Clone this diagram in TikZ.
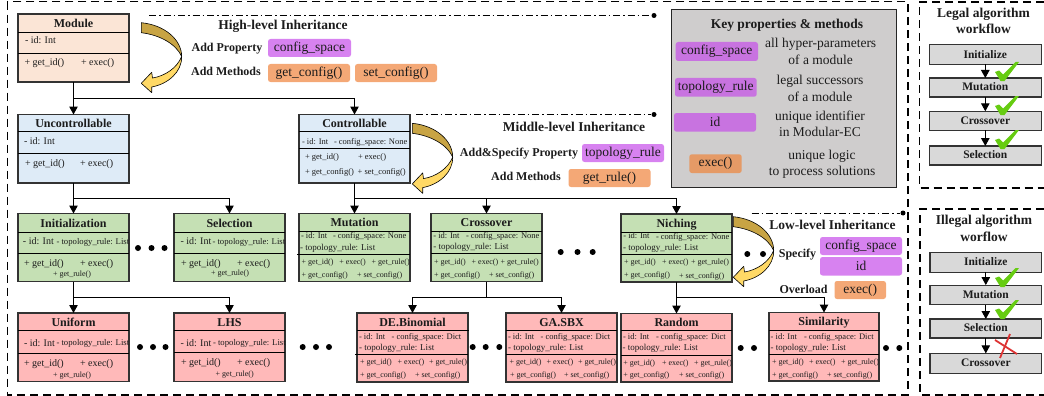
\documentclass[tikz,border=0pt]{standalone}
\usepackage{fontspec}
\setmainfont{Liberation Serif}
\usetikzlibrary{arrows.meta}
\definecolor{cmod}{HTML}{FBE5D6}
\definecolor{cblue}{HTML}{DEEBF7}
\definecolor{cgreen}{HTML}{C5E0B4}
\definecolor{cred}{HTML}{FFB9B9}
\definecolor{cgray}{HTML}{D9D9D9}
\definecolor{cpanel}{HTML}{CFCDCD}
\definecolor{cpur}{HTML}{D782F0}
\definecolor{cora}{HTML}{F4A876}
\definecolor{cpurd}{HTML}{C873E0}
\definecolor{corad}{HTML}{E59A66}
\definecolor{cdark}{HTML}{C8A444}
\definecolor{clight}{HTML}{FFD966}
\definecolor{ccheck}{HTML}{66CC11}
\definecolor{cx}{HTML}{DD3333}
\definecolor{cink}{HTML}{1C1C1C}
\tikzset{
  uml/.style={draw=black!80,line width=1.1pt,inner sep=0pt,outer sep=0pt,rectangle},
  divline/.style={draw=black,line width=0.9pt},
  lab/.style={inner sep=0pt,outer sep=0pt,text=cink},
  conn/.style={draw=black,line width=1pt},
  arr/.style={conn,-{Triangle[length=8pt,width=8.5pt]}},
  frame/.style={draw=black,line width=1.1pt,dash pattern=on 8pt off 5pt},
  dashdot/.style={draw=black,line width=0.9pt,dash pattern=on 7pt off 3pt on 1.5pt off 3pt},
  pillbox/.style={rounded corners=2.5pt,inner sep=0pt,outer sep=0pt,rectangle,text=cink},
  dotnode/.style={circle,fill=black,inner sep=0pt,minimum size=6pt},
}
\newcounter{tn}
\newcommand{\tl}[4]{\stepcounter{tn}\node[lab,anchor=base west] (t\arabic{tn}) at ({#1},{(#2)+0.3*#3}) {\fontsize{#3}{#3}\selectfont #4};}
\newcommand{\tc}[4]{\stepcounter{tn}\node[lab,anchor=base] (t\arabic{tn}) at ({#1},{(#2)+0.3*#3}) {\fontsize{#3}{#3}\selectfont #4};}
\newcommand{\tb}[4]{\stepcounter{tn}\node[lab,anchor=base] (t\arabic{tn}) at ({#1},{(#2)+0.3*#3}) {\fontsize{#3}{#3}\selectfont\bfseries #4};}
\newcommand{\umlbox}[9]{%
  \node[uml,fill=#8,minimum width={#4-#2},minimum height={#5-#3}] (#1) at ({(#2+#4)/2},{(#3+#5)/2}) {};
  \draw[divline] (#2,#6) -- (#4,#6);
  \draw[divline] (#2,#7) -- (#4,#7);
  \tb{(#2+#4)/2}{(#3+#6)/2+1}{12}{#9}}
\newcommand{\pill}[8]{%
  \node[pillbox,fill=#6,minimum width={#4-#2},minimum height={#5-#3}] (#1) at ({(#2+#4)/2},{(#3+#5)/2}) {\fontsize{#7}{#7}\selectfont #8};}
\newcommand{\bendarrow}[2]{%
  \begin{scope}[shift={(#1,#2)},draw=black,line width=0.6pt,line join=round]
    \filldraw[fill=cdark] (141.3,22.7) .. controls (165,25) and (181.7,40) .. (181.7,56.5) .. controls (176,44) and (160,35) .. (141.3,32.7) -- cycle;
    \filldraw[fill=clight] (181.7,56.5) .. controls (182,72) and (168,84) .. (151.7,87) -- (151.7,92.7) -- (141.3,83.3) -- (151.7,72.3) -- (152.5,78) .. controls (165,76) and (177,68) .. (181.7,56.5) -- cycle;
  \end{scope}}
\newcommand{\checkmk}[2]{\fill[ccheck,shift={(#1,#2)}] (995,72) -- (999,70.5) -- (1003,74.5) -- (1015.5,62) -- (1019,62) -- (1004.5,81) -- (1000.5,81) -- cycle;}
\newcommand{\dotat}[3]{\stepcounter{tn}\node[dotnode] (t\arabic{tn}) at (#1,#2) {};}
\begin{document}
\begin{tikzpicture}[x=1pt,y=-1pt]
\useasboundingbox (0,0) rectangle (1044,396);
% frames
\draw[frame] (7.3,1.7) rectangle (908,395);
\draw[frame] (1044,2) -- (919.3,2) -- (919.3,188) -- (1044,188);
\draw[frame] (1044,209) -- (920,209) -- (920,395) -- (1044,395);
% dash-dot leaders
\coordinate (hs) at (149,15.5); \node[dotnode,minimum size=5pt] (he) at (654,15.5) {};
\coordinate (ms) at (416,114.5); \node[dotnode,minimum size=5pt] (me) at (654,114.5) {};
\coordinate (ls) at (751.7,213); \node[dotnode,minimum size=5pt] (le) at (903,213) {};
\draw[dashdot] (hs) -- (he); \draw[dashdot] (ms) -- (me); \draw[dashdot] (ls) -- (le);
% boxes
\umlbox{module}{18}{14}{129}{82}{32.5}{53}{cmod}{Module}
\umlbox{unc}{18}{114.5}{129}{183}{131}{153.5}{cblue}{Uncontrollable}
\umlbox{ctrl}{299}{114.5}{410}{183}{131.5}{148.5}{cblue}{Controllable}
\umlbox{init}{18}{213.5}{129}{281.5}{232}{253}{cgreen}{Initialization}
\umlbox{sel}{174}{213.5}{285}{281.5}{232}{253}{cgreen}{Selection}
\umlbox{mut}{299}{213.5}{410}{281.5}{231}{254}{cgreen}{Mutation}
\umlbox{cro}{431}{213.5}{542}{281.5}{231}{253.5}{cgreen}{Crossover}
\umlbox{nic}{621}{214}{732}{282}{232}{254}{cgreen}{Niching}
\umlbox{uni}{18}{313}{129}{381.7}{330}{353.5}{cred}{Uniform}
\umlbox{lhs}{174}{313}{285}{381.7}{330.5}{352}{cred}{LHS}
\umlbox{de}{357}{313}{468}{382}{330}{354.5}{cred}{DE.Binomial}
\umlbox{ga}{506}{313}{617}{382}{330}{354.5}{cred}{GA.SBX}
\umlbox{ran}{621}{313.5}{732}{382}{330}{355}{cred}{Random}
\umlbox{sim}{769}{312.5}{879}{381}{330}{354.5}{cred}{Similarity}
\draw[divline] (297,254) -- (299,254);
\draw[divline] (355,354.5) -- (357,354.5);
\draw[divline] (468,330) -- (469,330);
% connectors
\draw[arr] (module.south) -- (unc.north);
\coordinate (j1) at (73.5,98); \draw[arr] (j1) -| (ctrl.north);
\draw[arr] (unc.south) -- (init.north);
\coordinate (j2) at (73.5,198); \draw[arr] (j2) -| (sel.north);
\draw[arr] (ctrl.south) -- (mut.north);
\coordinate (j3) at (354.5,198); \draw[arr] (j3) -| (cro.north);
\draw[arr] (j3) -| (nic.north);
\draw[arr] (init.south) -- (uni.north);
\coordinate (j4) at (73.5,297.5); \draw[arr] (j4) -| (lhs.north);
\coordinate (j5) at (486.5,297.5); \draw[conn] (cro.south) -- (j5);
\draw[arr] (j5) -| (de.north); \draw[arr] (j5) -| (ga.north);
\draw[arr] (nic.south) -- (ran.north);
\coordinate (j6) at (676.5,297.5); \draw[arr] (j6) -| (sim.north);
% bend arrows
\bendarrow{0}{0}
\bendarrow{271}{100.6}
\bendarrow{592}{194}
% module text
\tl{25}{41}{10}{- id: Int}
\tl{24.5}{63}{10}{+ get\_id()}
\tl{81}{63}{10}{+ exec()}
\tl{24}{141}{10}{- id: Int}
\tl{25}{163}{10}{+ get\_id()}
\tl{80}{163}{10}{+ exec()}
% controllable
\tl{302}{141.5}{8.5}{- id: Int}
\tl{334}{141.5}{8.5}{- config\_space: None}
\tl{305}{157}{8.5}{+ get\_id()}
\tl{358}{157}{8.5}{+ exec()}
\tl{305}{172}{8.5}{+ get\_config()}
\tl{357.7}{172}{8.5}{+ set\_config()}
% initialization, selection
\tl{23}{241.5}{10}{- id: Int}
\tl{56.5}{241.5}{8.7}{- topology\_rule: List}
\tl{24}{263}{10}{+ get\_id()}
\tl{80}{263}{10}{+ exec()}
\tl{53}{274}{8}{+ get\_rule()}
\tl{180.5}{241.5}{10}{- id: Int}
\tl{212.5}{241.5}{8.7}{- topology\_rule: List}
\tl{181}{263}{10}{+ get\_id()}
\tl{237}{263}{10}{+ exec()}
\tl{211}{273.5}{8}{+ get\_rule()}
% uniform, lhs
\tl{24}{343}{10}{- id: Int}
\tl{56.5}{343}{8.7}{- topology\_rule: List}
\tl{24}{363}{10}{+ get\_id()}
\tl{80}{363}{10}{+ exec()}
\tl{53}{375}{8}{+ get\_rule()}
\tl{180.5}{343}{10}{- id: Int}
\tl{213}{343}{8.7}{- topology\_rule: List}
\tl{181}{362}{10}{+ get\_id()}
\tl{237}{362}{10}{+ exec()}
\tl{215.7}{374}{8}{+ get\_rule()}
% mutation
\tl{301}{236}{8.5}{- id: Int}
\tl{333}{236}{8.5}{- config\_space: None}
\tl{300}{248}{9}{- topology\_rule: List}
\tl{301.7}{262}{8}{+ get\_id()}
\tl{339.3}{262}{8}{+ exec()}
\tl{371.7}{262}{8}{+ get\_rule()}
\tl{301.7}{275}{8}{+ get\_config()}
\tl{357}{275}{8}{+ set\_config()}
% crossover
\tl{433.3}{236}{8.5}{- id: Int}
\tl{466}{236}{8.5}{- config\_space: None}
\tl{433.3}{247}{9}{- topology\_rule: List}
\tl{434}{262.5}{8}{+ get\_id()}
\tl{471.7}{262.5}{8}{+ exec()}
\tl{500.7}{262.5}{8}{+ get\_rule()}
\tl{434}{275}{8}{+ get\_config()}
\tl{489}{275}{8}{+ set\_config()}
% niching
\tl{623.3}{236}{8.5}{- id: Int}
\tl{656}{237}{8.5}{- config\_space: None}
\tl{623}{248}{9}{- topology\_rule: List}
\tl{624}{262}{8}{+ get\_id()}
\tl{662}{262}{8}{+ exec()}
\tl{691}{262}{8}{+ get\_rule()}
\tl{624}{275.5}{8}{+ get\_config()}
\tl{679}{276.5}{8}{+ set\_config()}
% de
\tl{359}{337}{8.5}{- id: Int}
\tl{391.7}{337}{8.5}{- config\_space: Dict}
\tl{359}{348}{9}{- topology\_rule: List}
\tl{360}{362.5}{8}{+ get\_id()}
\tl{397.7}{362.5}{8}{+ exec()}
\tl{429}{362.5}{8}{+ get\_rule()}
\tl{360}{375}{8}{+ get\_config()}
\tl{415}{375}{8}{+ set\_config()}
% ga
\tl{508}{337}{8.5}{- id: Int}
\tl{540.7}{337}{8.5}{- config\_space: Dict}
\tl{508}{348}{9}{- topology\_rule: List}
\tl{509.7}{362.5}{8}{+ get\_id()}
\tl{546.7}{362.5}{8}{+ exec()}
\tl{578}{362.5}{8}{+ get\_rule()}
\tl{510}{375.5}{8}{+ get\_config()}
\tl{564}{375.5}{8}{+ set\_config()}
% random
\tl{623}{337}{8.5}{- id: Int}
\tl{656}{337}{8.5}{- config\_space: Dict}
\tl{622.7}{348}{9}{- topology\_rule: List}
\tl{623.3}{363}{8}{+ get\_id()}
\tl{662}{363}{8}{+ exec()}
\tl{694}{363}{8}{+ get\_rule()}
\tl{623.3}{375.5}{8}{+ get\_config()}
\tl{679}{375.5}{8}{+ set\_config()}
% similarity
\tl{770.7}{337}{8.5}{- id: Int}
\tl{804}{337}{8.5}{- config\_space: Dict}
\tl{770.7}{348}{9}{- topology\_rule: List}
\tl{772}{362}{8}{+ get\_id()}
\tl{809}{362}{8}{+ exec()}
\tl{841}{362}{8}{+ get\_rule()}
\tl{772}{375}{8}{+ get\_config()}
\tl{827}{375}{8}{+ set\_config()}
% ellipsis dots
\dotat{138}{248}{} \dotat{151.5}{248}{} \dotat{164.5}{248}{}
\dotat{140}{347}{} \dotat{153}{347}{} \dotat{165.5}{347}{}
\dotat{302.7}{347}{} \dotat{316}{347}{} \dotat{329}{347}{}
\dotat{472.7}{347}{} \dotat{485.7}{347}{} \dotat{499.3}{347}{}
\dotat{560.7}{252}{} \dotat{577.5}{252}{} \dotat{592.7}{252}{}
\dotat{747.3}{254}{} \dotat{763}{254}{}
\dotat{740.7}{348}{} \dotat{754}{348}{}
\dotat{886}{348}{} \dotat{899.3}{348}{}
% high-level
\tb{283}{25.5}{13.5}{High-level Inheritance}
\tb{227}{48}{12}{Add Property}
\tb{226}{72}{12}{Add Methods}
\pill{p1}{268}{39}{351}{57}{cpur}{13.5}{config\_space}
\pill{p2}{268}{64}{350}{82}{cora}{13.5}{get\_config()}
\pill{p3}{355}{64}{437}{82}{cora}{13.5}{set\_config()}
% middle
\tb{574}{127}{13.5}{Middle-level Inheritance}
\tb{519}{153}{12}{Add\&Specify Property}
\tb{526}{177}{12}{Add Methods}
\pill{p4}{582}{144}{664}{162}{cpur}{13.5}{topology\_rule}
\pill{p5}{568.5}{169}{650.5}{187}{cora}{13.5}{get\_rule()}
% low
\tb{832.5}{225}{13.5}{Low-level Inheritance}
\tb{797.5}{254}{12}{Specify}
\tb{803.5}{290}{12}{Overload}
\pill{p6}{820}{237}{902}{255}{cpur}{13.5}{config\_space}
\pill{p7}{820}{257}{902}{275.5}{cpur}{13.5}{id}
\pill{p8}{834.5}{281}{886}{299}{cora}{13.5}{exec()}
% key panel
\node[draw=black!85,line width=1.4pt,fill=cpanel,inner sep=0pt,minimum width=225pt,minimum height=178pt] (panel) at (784.2,98.3) {};
\tb{787}{24}{13.5}{Key properties \& methods}
\pill{k1}{675.7}{42}{758}{61}{cpurd}{13.5}{config\_space}
\pill{k2}{675}{78}{756.7}{96.7}{cpurd}{13.5}{topology\_rule}
\pill{k3}{674}{113}{756}{131.7}{cpurd}{13.5}{id}
\pill{k4}{689.3}{154.3}{741.7}{173}{corad}{13.5}{exec()}
\tc{820.7}{43}{13.5}{all hyper-parameters}
\tc{820.7}{60}{13.5}{of a module}
\tc{820}{80}{13.5}{legal successors}
\tc{820}{97}{13.5}{of a module}
\tc{820}{116}{13.5}{unique identifier}
\tc{820}{132}{13.5}{in Modular-EC}
\tc{822}{155}{13.5}{unique logic}
\tc{822}{171}{13.5}{to process solutions}
% legal workflow
\tb{983.5}{13}{13.5}{Legal algorithm}
\tb{983.5}{29}{13.5}{workflow}
\node[uml,fill=cgray,minimum width=111.7pt,minimum height=19.3pt] (a1) at (985.3,54.6) {};
\node[uml,fill=cgray,minimum width=111.7pt,minimum height=19pt] (a2) at (985.3,87.5) {};
\node[uml,fill=cgray,minimum width=111.7pt,minimum height=19pt] (a3) at (985.3,120.8) {};
\node[uml,fill=cgray,minimum width=111.7pt,minimum height=19pt] (a4) at (985.3,155.5) {};
\tb{985.3}{54.6}{11.5}{Initialize}
\tb{985.3}{87.5}{11.5}{Mutation}
\tb{985.3}{120.8}{11.5}{Crossover}
\tb{985.3}{155.5}{11.5}{Selection}
\draw[arr] (a1) -- (a2); \draw[arr] (a2) -- (a3); \draw[arr] (a3) -- (a4);
\checkmk{0}{0} \checkmk{0}{34} \checkmk{0}{68}
% illegal workflow
\tb{984}{220.7}{13.5}{Illegal algorithm}
\tb{984}{237.7}{13.5}{worflow}
\node[uml,fill=cgray,minimum width=111.7pt,minimum height=19.7pt] (b1) at (985.8,262.2) {};
\node[uml,fill=cgray,minimum width=111.7pt,minimum height=19.7pt] (b2) at (985.8,294.9) {};
\node[uml,fill=cgray,minimum width=111.7pt,minimum height=19pt] (b3) at (985.8,328.5) {};
\node[uml,fill=cgray,minimum width=111.7pt,minimum height=19.7pt] (b4) at (985.8,363.2) {};
\tb{985.8}{262.2}{11.5}{Initialize}
\tb{985.8}{294.9}{11.5}{Mutation}
\tb{985.8}{328.5}{11.5}{Selection}
\tb{985.8}{363.2}{11.5}{Crossover}
\draw[arr] (b1) -- (b2); \draw[arr] (b2) -- (b3); \draw[arr] (b3) -- (b4);
\checkmk{0}{206} \checkmk{0}{238}
\draw[cx,line width=1.8pt] (995,340) -- (1017,354);
\draw[cx,line width=1.8pt] (1010,334) -- (1000,358);
\end{tikzpicture}
\end{document}
